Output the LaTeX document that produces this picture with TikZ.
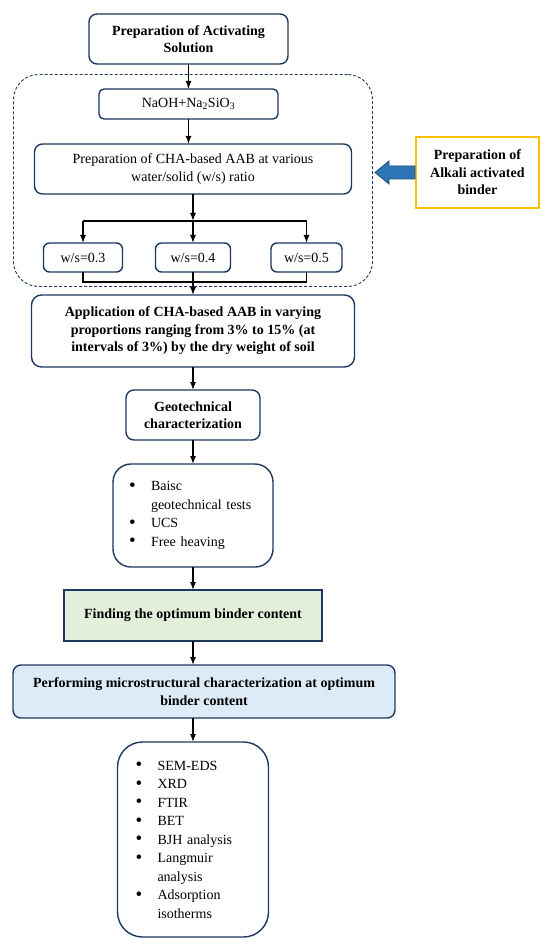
\documentclass[tikz,border=0pt]{standalone}
\usepackage{fontspec}
\setmainfont{Liberation Serif}
\usetikzlibrary{positioning,fit,arrows.meta}
\definecolor{boxline}{RGB}{31,56,96}
\definecolor{greenfill}{RGB}{226,239,218}
\definecolor{bluefill}{RGB}{221,235,247}
\definecolor{goldline}{RGB}{255,192,0}
\definecolor{arrowfill}{RGB}{46,117,182}
\definecolor{arrowline}{RGB}{31,78,121}
\newcommand{\bitem}[1]{\makebox[22pt][l]{\raisebox{-0.5pt}{\fontsize{19}{19}\selectfont\textbullet}}#1}
\newcommand{\bcont}[1]{\hspace*{22pt}#1}

\begin{document}
\begin{tikzpicture}[x=1pt,y=1pt,
  box/.style={draw=boxline,line width=1.4pt,rounded corners=8pt,align=center,inner sep=2pt,outer sep=0pt,font=\fontsize{14}{17.5}\selectfont},
  bold/.style={font=\fontsize{14}{17.5}\selectfont\bfseries},
  listbox/.style={box,align=left,font=\fontsize{14}{18.5}\selectfont},
  ratio/.style={box,rounded corners=6pt,minimum height=29pt},
  arr/.style={-{Latex[length=8pt,width=6pt]},line width=1.3pt},
  link/.style={line width=1.3pt}]
\useasboundingbox (0,0) rectangle (550,-949);
\node[box,bold,minimum width=199pt,minimum height=50pt] (prep) at (188.5,-39) {Preparation of Activating\\Solution};
\node[box,rounded corners=5pt,minimum width=179pt,minimum height=30pt,below=25pt of prep] (naoh) {NaOH+Na\textsubscript{2}SiO\textsubscript{3}};
\node[box,minimum width=317pt,minimum height=50pt,below=25pt of naoh,xshift=4.5pt] (cha) {Preparation of CHA-based AAB at various\\water/solid (w/s) ratio};
\node[ratio,minimum width=75pt,below=49pt of cha] (w04) {w/s=0.4};
\node[ratio,minimum width=79pt,left=33pt of w04] (w03) {w/s=0.3};
\node[ratio,minimum width=71pt,right=40.5pt of w04] (w05) {w/s=0.5};
\node[draw=boxline,dash pattern=on 3pt off 2pt,line width=0.9pt,rounded corners=25pt,inner xsep=21pt,inner ysep=14.5pt,fit=(naoh)(cha)(w03)(w05)] (binder) {};
\node[draw=goldline,line width=1.8pt,bold,align=center,minimum width=123pt,minimum height=71pt,right=63.5pt of cha,yshift=-3.5pt] (yellow) {Preparation of\\Alkali activated\\binder};
\node[box,bold,rounded corners=10pt,minimum width=323pt,minimum height=72pt,below=23pt of w04] (app) {Application of CHA-based AAB in varying\\proportions ranging from 3\% to 15\% (at\\intervals of 3\%) by the dry weight of soil};
\node[box,bold,minimum width=134pt,minimum height=50pt,below=23pt of app] (geo) {Geotechnical\\characterization};
\node[listbox,rounded corners=18pt,minimum width=160pt,minimum height=103pt,text width=128pt,below=24pt of geo] (tests) {\bitem{Baisc}\\\bcont{geotechnical tests}\\\bitem{UCS}\\\bitem{Free heaving}};
\node[box,bold,sharp corners,fill=greenfill,minimum width=258pt,minimum height=51pt,below=23pt of tests] (green) {Finding the optimum binder content};
\node[box,bold,fill=bluefill,minimum width=382pt,minimum height=53pt,below=24pt of green,xshift=11pt] (blue) {Performing microstructural characterization at optimum\\binder content};
\node[listbox,rounded corners=25pt,minimum width=151pt,minimum height=195pt,text width=115pt,below=24pt of blue,xshift=-11pt] (final) {\bitem{SEM-EDS}\\\bitem{XRD}\\\bitem{FTIR}\\\bitem{BET}\\\bitem{BJH analysis}\\\bitem{Langmuir}\\\bcont{analysis}\\\bitem{Adsorption}\\\bcont{isotherms}};
% connectors
\draw[arr] (prep) -- (naoh);
\draw[arr] (naoh) -- (naoh |- cha.north);
\draw[arr] (cha.south) -- ++(0,-27) coordinate (split);
\draw[link] (split -| w03) -- (split -| w05);
\foreach \w in {w03,w04,w05}
  \draw[arr] (split -| \w) -- (\w);
\path (app.north) ++(0,13) coordinate (merge);
\draw[link] (w03) |- (merge) -| (w05);
\draw[link] (w04) -- (merge);
\draw[arr] (merge) -- (app);
\draw[arr] (app) -- (geo);
\draw[arr] (geo) -- (tests);
\draw[arr] (tests) -- (green);
\draw[arr] (green) -- (green |- blue.north);
\draw[arr] (final |- blue.south) -- (final);
% block arrow into the binder group
\draw[draw=arrowline,fill=arrowfill,line width=0.8pt] (yellow.west) ++(0,6.5) -- ++(-26,0) -- ++(0,5) -- ++(-14,-11.5) -- ++(14,-11.5) -- ++(0,5) -- ++(26,0) -- cycle;
\end{tikzpicture}
\end{document}
